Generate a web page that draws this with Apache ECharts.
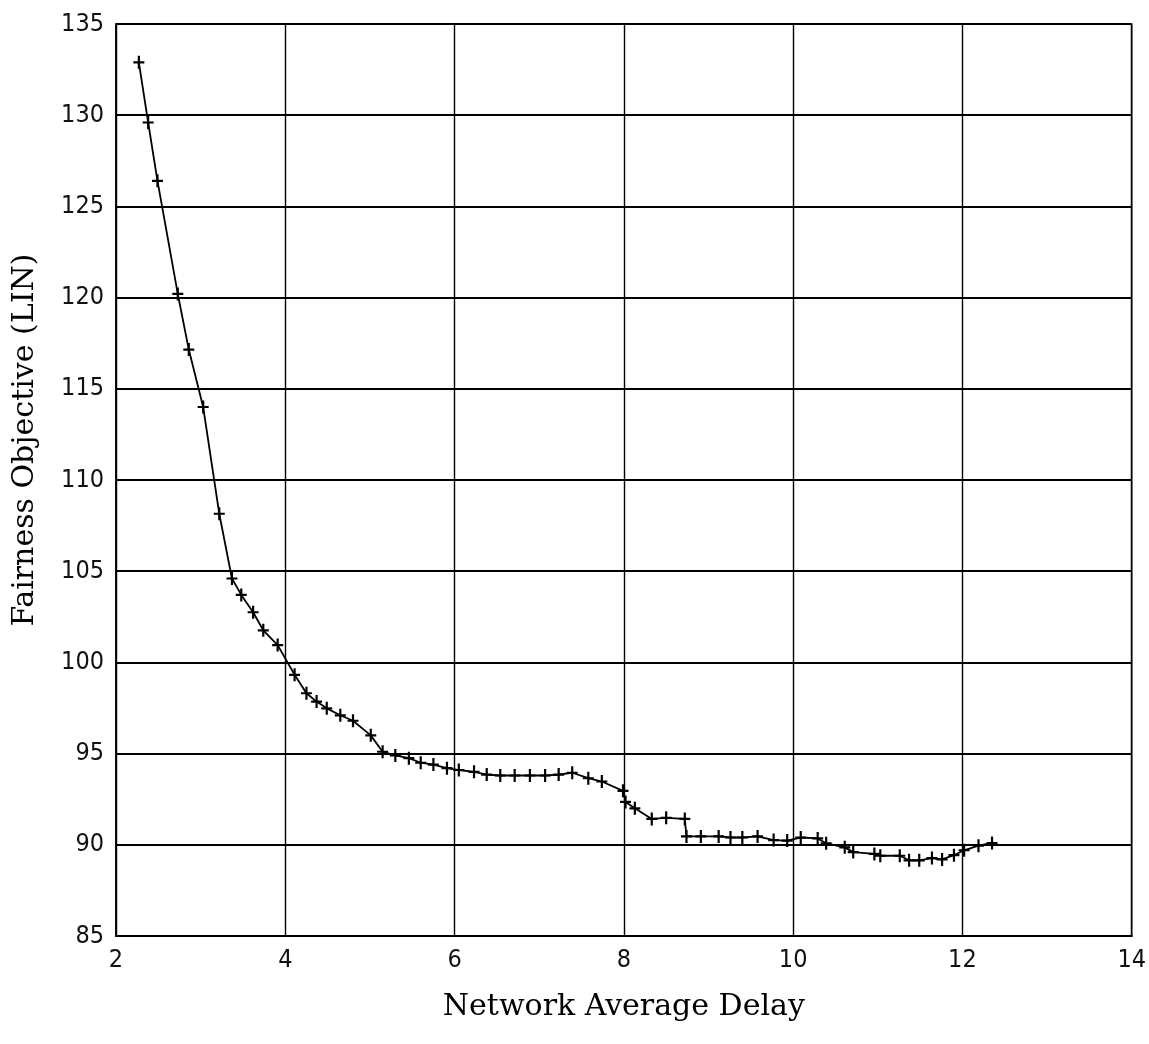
<!DOCTYPE html>
<html>
<head>
<meta charset="utf-8">
<script src="https://cdn.jsdelivr.net/npm/echarts@6/dist/echarts.min.js"></script>
<style>
  html, body { margin: 0; padding: 0; background: #fff; }
  #chart { width: 1149px; height: 1044px; }
</style>
</head>
<body>
<div id="chart"></div>
<script>
// values
const delay = [
  2.27, 2.38, 2.49, 2.73, 2.86, 3.03, 3.22, 3.37, 3.48, 3.62,
  3.74, 3.91, 4.11, 4.25, 4.37, 4.49, 4.65, 4.80, 5.01, 5.15,
  5.30, 5.46, 5.60, 5.75, 5.91, 6.05, 6.23, 6.38, 6.54, 6.71,
  6.89, 7.07, 7.23, 7.39, 7.58, 7.74, 7.99, 8.02, 8.13, 8.33,
  8.50, 8.72, 8.74, 8.91, 9.12, 9.26, 9.40, 9.58, 9.77, 9.93,
  10.09, 10.29, 10.39, 10.61, 10.71, 10.96, 11.03, 11.26, 11.37, 11.49,
  11.64, 11.76, 11.90, 12.02, 12.19, 12.35
];
const fairness = [
  132.9, 129.6, 126.4, 120.2, 117.15, 114.0, 108.15, 104.6, 103.7, 102.75,
  101.76, 100.95, 99.32, 98.31, 97.85, 97.48, 97.1, 96.8, 96.0, 95.1,
  94.9, 94.75, 94.5, 94.4, 94.2, 94.1, 94.0, 93.85, 93.8, 93.8,
  93.8, 93.8, 93.85, 93.95, 93.65, 93.47, 92.96, 92.35, 92.0, 91.42,
  91.48, 91.42, 90.46, 90.46, 90.46, 90.4, 90.4, 90.46, 90.26, 90.23,
  90.4, 90.35, 90.08, 89.86, 89.6, 89.5, 89.4, 89.4, 89.15, 89.15,
  89.27, 89.2, 89.43, 89.7, 89.95, 90.1
];

const points = delay.map((d, i) => [d, fairness[i]]);

const tickFont = {
  fontFamily: 'DejaVu Sans Condensed, DejaVu Sans',
  fontWeight: 'lighter',
  fontSize: 25,
  color: '#111'
};
const titleFont = { fontFamily: 'DejaVu Serif', fontSize: 30, color: '#000' };

const chart = echarts.init(document.getElementById('chart'));
const options = {
  backgroundColor: '#fff',
  animation: false,
  grid: {
    left: 116, right: 16, top: 24, bottom: 108,
    show: true, borderColor: '#000', borderWidth: 1.5
  },
  xAxis: {
    type: 'value',
    min: 2,
    max: 14,
    interval: 2,
    name: 'Network Average Delay',
    nameLocation: 'middle',
    nameGap: 56,
    nameTextStyle: titleFont,
    axisLine: { show: true, lineStyle: { color: '#000', width: 2 } },
    axisTick: { show: false },
    axisLabel: Object.assign({ margin: 12 }, tickFont),
    splitLine: { show: true, lineStyle: { color: '#000', width: 1.4 } }
  },
  yAxis: {
    type: 'value',
    min: 85,
    max: 135,
    interval: 5,
    name: 'Fairness Objective (LIN)',
    nameLocation: 'middle',
    nameGap: 76,
    nameTextStyle: Object.assign({ padding: [0, 0, 0, 80] }, titleFont),
    axisLine: { show: true, lineStyle: { color: '#000', width: 1.5 } },
    axisTick: { show: false },
    axisLabel: Object.assign({ margin: 12 }, tickFont),
    splitLine: { show: true, lineStyle: { color: '#000', width: 2.2 } }
  },
  series: [
    {
      type: 'line',
      data: points,
      symbol: 'path://M-1,-6H1V-1H5V1H1V6H-1V1H-5V-1H-1Z',
      symbolSize: [11, 13],
      showAllSymbol: true,
      lineStyle: { color: '#000', width: 1.8 },
      itemStyle: { color: '#000' }
    }
  ]
};
chart.setOption(options);
</script>
</body>
</html>
